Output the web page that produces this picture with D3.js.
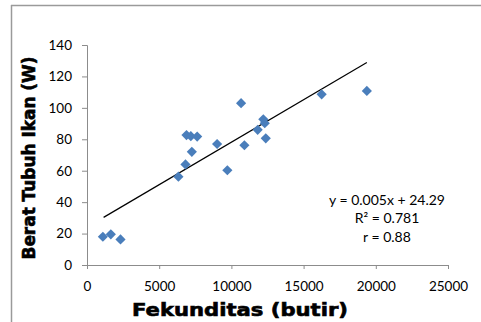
<!DOCTYPE html>
<html>
<head>
<meta charset="utf-8">
<script src="https://cdn.jsdelivr.net/npm/d3@7"></script>
<style>
  body { margin: 0; background: #fff; }
  svg { display: block; }
</style>
</head>
<body>
<svg id="chart" width="481" height="322"></svg>
<script>
// data
const fekunditas = [1100, 1650, 2320, 6330, 6820, 6890, 7190, 7260, 7630, 9010, 9720, 10670, 10900, 11820, 12210, 12310, 12380, 16250, 19380];
const berat = [18, 19.5, 16.3, 56.2, 64, 82.7, 82, 72, 81.7, 77, 60.3, 103, 76.2, 86, 92.7, 90.2, 80.6, 108.6, 110.8];
const trendX = [1150, 19380];
const trendY = [30.3, 128.8];
const xTicks = [0, 5000, 10000, 15000, 20000, 25000];
const yTicks = [0, 20, 40, 60, 80, 100, 120, 140];
const eqLines = ["y = 0.005x + 24.29", "R² = 0.781", "r = 0.88"];

const svg = d3.select("#chart");
const font = "Lato, 'Open Sans', sans-serif";

// frame (only top and left edges show in the crop)
svg.append("line").attr("x1", 11).attr("x2", 481).attr("y1", 5.5).attr("y2", 5.5)
  .attr("stroke", "#9a9a9a").attr("stroke-width", 1.5);
svg.append("line").attr("x1", 11.5).attr("x2", 11.5).attr("y1", 5).attr("y2", 322)
  .attr("stroke", "#9a9a9a").attr("stroke-width", 1.5);

const x = d3.scaleLinear().domain([0, 25000]).range([87, 448]);
const y = d3.scaleLinear().domain([0, 140]).range([265, 45]);

// axes
const xAxis = svg.append("g").attr("transform", "translate(0,265)")
  .call(d3.axisBottom(x).tickValues(xTicks).tickSize(4).tickPadding(10).tickFormat(d3.format("d")));
const yAxis = svg.append("g").attr("transform", "translate(87,0)")
  .call(d3.axisLeft(y).tickValues(yTicks).tickSize(5).tickPadding(10));

[xAxis, yAxis].forEach(g => {
  g.select(".domain").attr("stroke", "#8c8c8c");
  g.selectAll(".tick line").attr("stroke", "#8c8c8c");
  g.selectAll(".tick text").attr("font-family", font).attr("font-size", 13.5).attr("fill", "#000");
});
xAxis.selectAll(".tick text").attr("dy", "0.9em");

// trend line
svg.append("line")
  .attr("x1", x(trendX[0])).attr("y1", y(trendY[0]))
  .attr("x2", x(trendX[1])).attr("y2", y(trendY[1]))
  .attr("stroke", "#000").attr("stroke-width", 1.2);

// diamond markers
const diamond = d3.symbol().type(d3.symbolDiamond2).size(66);
svg.selectAll(".pt")
  .data(fekunditas.map((d, i) => [d, berat[i]]))
  .enter()
  .append("path")
  .attr("class", "pt")
  .attr("d", diamond)
  .attr("transform", d => `translate(${x(d[0])},${y(d[1])})`)
  .attr("fill", "#4a7ebb");

// equation box
svg.selectAll(".eq")
  .data(eqLines)
  .enter()
  .append("text")
  .attr("class", "eq")
  .attr("x", 387)
  .attr("y", (d, i) => 204.5 + i * 18.5)
  .attr("text-anchor", "middle")
  .attr("font-family", font)
  .attr("font-size", 14)
  .text(d => d);

// axis titles (heavy wide face: bold + thin stroke, stretched to reference width)
const titleStyle = sel => sel
  .attr("text-anchor", "middle")
  .attr("font-family", "'DejaVu Sans', sans-serif")
  .attr("font-weight", "bold")
  .attr("font-size", 17)
  .attr("stroke", "#000")
  .attr("stroke-width", 0.6)
  .attr("lengthAdjust", "spacingAndGlyphs");

svg.append("text")
  .attr("x", 240).attr("y", 316)
  .call(titleStyle)
  .attr("textLength", 216)
  .text("Fekunditas (butir)");

svg.append("text")
  .attr("transform", "translate(35,158) rotate(-90)")
  .call(titleStyle)
  .attr("textLength", 203)
  .text("Berat Tubuh Ikan (W)");
</script>
</body>
</html>
